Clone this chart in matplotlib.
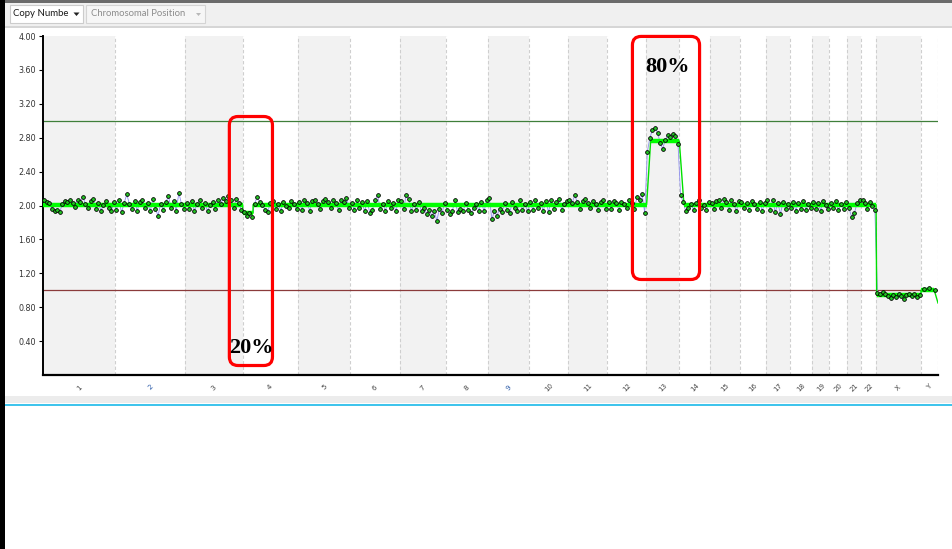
# -*- coding: utf-8 -*-
"""
Copy number view across the genome, chromosomes 1-22, X and Y.
"""

import numpy as np
import matplotlib.pyplot as plt
from matplotlib.patches import Rectangle, FancyBboxPatch, Polygon


"""chromosome names and lengths (Mb)"""
chrom_names = [str(i) for i in range(1, 23)] + ['X', 'Y']
chrom_len = [249, 243, 198, 191, 181, 171, 159, 146, 141, 136, 135, 134,
             115, 107, 103, 90, 81, 78, 59, 63, 48, 51, 155, 59]

"""probe copy number values, one list per chromosome"""
cn_values = [
    [2.06, 2.04, 2.03, 1.96, 1.93, 1.95, 1.92, 2.02, 2.05, 2.04, 2.06, 2.03, 1.98, 2.07,
     2.04, 2.10, 2.02, 1.97, 2.05, 2.08, 1.96, 2.03, 1.94, 2.01, 2.05, 1.97, 1.93, 2.04],
    [1.95, 2.06, 1.92, 2.03, 2.13, 2.02, 1.96, 2.05, 1.94, 2.04, 2.07, 1.97, 2.03, 1.93,
     2.08, 1.96, 1.88, 2.02, 1.95, 2.04, 2.11, 1.97, 2.05, 1.94, 2.15, 2.02, 1.96],
    [2.03, 1.96, 2.05, 1.94, 2.02, 2.06, 1.97, 2.03, 1.93, 2.01, 2.04, 1.96, 2.07, 2.02,
     2.09, 2.05, 2.11, 2.06, 1.97, 2.08, 2.03, 1.95],
    [1.92, 1.88, 1.91, 1.87, 2.02, 2.10, 2.04, 2.01, 1.95, 1.92, 2.03, 2.05, 1.96, 2.02,
     1.94, 2.04, 2.00, 1.97, 2.05, 2.02, 1.96],
    [2.04, 1.95, 2.06, 2.03, 1.94, 2.05, 2.07, 2.02, 1.96, 2.05, 2.08, 2.04, 1.97, 2.06,
     2.03, 1.95, 2.07, 2.04, 2.09, 1.97],
    [2.03, 1.95, 2.06, 1.97, 2.04, 1.93, 2.05, 1.91, 1.95, 2.07, 2.12, 1.96, 2.02, 1.94,
     2.05, 1.97, 2.03, 1.93, 2.06],
    [2.05, 1.96, 2.12, 2.08, 1.94, 2.02, 1.95, 2.04, 1.93, 1.97, 1.90, 1.95, 1.88, 1.93,
     1.82, 1.96, 1.91, 2.03],
    [1.95, 1.90, 1.94, 2.06, 1.92, 1.96, 1.93, 2.03, 1.95, 1.91, 1.97, 2.02, 1.94, 2.04,
     1.93, 2.07],
    [2.09, 1.84, 1.93, 1.88, 1.96, 1.92, 2.03, 1.95, 1.91, 2.04, 1.97, 1.94, 2.06, 1.95,
     2.02, 1.93],
    [2.04, 1.95, 2.06, 1.97, 2.03, 1.94, 2.05, 1.92, 2.07, 1.96, 2.04, 2.08, 1.95, 2.02, 2.05],
    [2.06, 2.03, 2.12, 2.04, 1.96, 2.05, 2.08, 2.03, 1.97, 2.05, 2.02, 1.95, 2.04, 2.06, 1.96],
    [2.04, 1.96, 2.05, 2.03, 1.95, 2.04, 2.02, 1.97, 2.06, 2.03, 1.96, 2.10, 2.07, 2.13, 1.91],
    [2.63, 2.80, 2.89, 2.92, 2.86, 2.74, 2.67, 2.77, 2.83, 2.81, 2.84, 2.82, 2.72],
    [2.12, 2.04, 1.93, 1.97, 2.02, 1.95, 2.03, 2.06, 1.97, 2.01, 1.95, 2.04],
    [2.03, 1.96, 2.05, 2.07, 1.97, 2.08, 2.04, 1.95, 2.06, 2.02, 1.93, 2.05],
    [2.04, 1.97, 2.03, 1.95, 2.05, 2.02, 1.96, 2.04, 1.94, 2.03],
    [2.06, 1.95, 2.07, 1.92, 2.03, 1.90, 2.04, 1.96, 2.02],
    [1.97, 2.04, 1.94, 2.03, 1.96, 2.05, 1.95, 2.02, 1.97],
    [2.04, 1.96, 2.03, 1.94, 2.05, 2.01, 1.96],
    [2.03, 1.97, 2.05, 1.95, 2.02, 1.96, 2.04],
    [1.97, 1.87, 1.91, 2.03, 2.06],
    [2.07, 2.03, 1.96, 2.04, 1.99, 1.95],
    [0.97, 0.95, 0.98, 0.96, 0.93, 0.91, 0.94, 0.92, 0.95, 0.93, 0.90, 0.94, 0.96, 0.93,
     0.95, 0.92, 0.94],
    [1.02, 1.03, 1.00],
]

"""segmented copy number calls (genome position in Mb)"""
seg_start = [0, 690, 726, 2100, 2215, 2881, 3034]
seg_end = [690, 726, 2086, 2199, 2879, 3034, 3080]
seg_value = [2.01, 1.91, 2.01, 2.76, 2.01, 0.94, 1.00]
seg_tail = (3093, 0.85)

W, H = 952, 549


def fx(x):
    return x / W


def fy(y):
    return 1 - y / H


fig = plt.figure(figsize=(W / 100, H / 100), dpi=100)

"""window chrome: toolbar, combo boxes, borders"""
fig.patches.append(Rectangle((0, fy(27)), 1, 27 / H, transform=fig.transFigure,
                             fc='#f0f0f0', ec='none', zorder=0))
fig.patches.append(Rectangle((0, fy(3)), 1, 3 / H, transform=fig.transFigure,
                             fc='#6b6b6b', ec='none', zorder=0))
fig.patches.append(Rectangle((0, fy(27.5)), 1, 1 / H, transform=fig.transFigure,
                             fc='#d6d6d6', ec='none', zorder=0))
fig.patches.append(Rectangle((fx(10), fy(23)), 73 / W, 18 / H, transform=fig.transFigure,
                             fc='white', ec='#cccccc', lw=0.8, zorder=1))
fig.patches.append(Rectangle((fx(86), fy(23)), 119 / W, 18 / H, transform=fig.transFigure,
                             fc='#f6f6f6', ec='#d4d4d4', lw=0.8, zorder=1))
fig.patches.append(Polygon([(fx(73.5), fy(12.5)), (fx(79.5), fy(12.5)), (fx(76.5), fy(16))],
                           closed=True, transform=fig.transFigure, fc='#222222',
                           ec='none', zorder=2))
fig.patches.append(Polygon([(fx(196), fy(13)), (fx(201), fy(13)), (fx(198.5), fy(16))],
                           closed=True, transform=fig.transFigure, fc='#b8b8b8',
                           ec='none', zorder=2))
fig.text(fx(13), fy(14), 'Copy Numbe', fontsize=6.9, color='#1a1a1a',
         va='center', ha='left', family='Lato')
fig.text(fx(91), fy(14), 'Chromosomal Position', fontsize=6.8, color='#8c8c8c',
         va='center', ha='left', family='Lato')

fig.patches.append(Rectangle((0, fy(403)), 1, 7 / H, transform=fig.transFigure,
                             fc='#ececec', ec='none', zorder=0))
fig.patches.append(Rectangle((0, fy(406)), 1, 2.5 / H, transform=fig.transFigure,
                             fc='#3fc4ec', ec='none', zorder=0))
fig.patches.append(Rectangle((0, 0), 5 / W, 1, transform=fig.transFigure,
                             fc='black', ec='none', zorder=3))

"""main plot"""
ax = fig.add_axes([fx(43), fy(375), (938 - 43) / W, (375 - 36) / H])
ax.set_facecolor('none')

offsets = np.concatenate([[0], np.cumsum(chrom_len)])
total = offsets[-1]

for i in range(len(chrom_len)):
    if i % 2 == 0:
        ax.axvspan(offsets[i], offsets[i + 1], color='#f2f2f2', lw=0, zorder=0)
for b in offsets[1:]:
    ax.axvline(b, color='#cfcfcf', lw=0.8, ls=(0, (3, 2)), zorder=0.5)

ax.axhline(3.0, color='#3f7f3a', lw=0.9, zorder=1)
ax.axhline(1.0, color='#8b3b3b', lw=0.9, zorder=1)

"""probe positions spread along each chromosome"""
all_x = []
all_y = []
for i, vals in enumerate(cn_values):
    n = len(vals)
    pos = offsets[i] + (np.arange(n) + 0.5) / n * chrom_len[i]
    all_x.extend(pos)
    all_y.extend(vals)

ax.plot(all_x, all_y, color='#8f8fee', lw=0.6, zorder=2)

"""segment line: thin joins plus thick flat calls"""
line_x = []
line_y = []
for s, e, v in zip(seg_start, seg_end, seg_value):
    line_x += [s, e]
    line_y += [v, v]
line_x.append(seg_tail[0])
line_y.append(seg_tail[1])
ax.plot(line_x, line_y, color='#00e000', lw=1.0, zorder=3)
ax.hlines(seg_value, seg_start, seg_end, color='#00ff00', lw=3.2, zorder=3)

ax.plot(all_x, all_y, 'o', ms=2.7, mfc='#22c422', mec='black', mew=0.6, zorder=4)

ax.set_xlim(0, total)
ax.set_ylim(0, 4.0)
ax.set_yticks(np.arange(0.4, 4.01, 0.4))
ax.set_yticklabels(['%.2f' % v for v in np.arange(0.4, 4.01, 0.4)],
                   fontsize=5.8, color='#333333')
ax.tick_params(axis='y', length=3, width=0.8, pad=2)

mids = (offsets[:-1] + offsets[1:]) / 2
ax.set_xticks(mids)
ax.set_xticklabels(chrom_names, fontsize=5, rotation=45, ha='center', va='center')
ax.tick_params(axis='x', length=0, pad=9)
for lab in ax.get_xticklabels():
    lab.set_color('#2a5aa8' if lab.get_text() in ('2', '9') else '#444444')

for side in ('top', 'right'):
    ax.spines[side].set_visible(False)
ax.spines['left'].set_linewidth(1.4)
ax.spines['bottom'].set_linewidth(1.6)

"""highlight boxes and mosaic fractions"""
asp = (4.0 / 339) / (total / 895)
for x0, x1, y0, y1 in [(644, 793, 0.112, 3.05), (2037, 2269, 1.127, 3.995)]:
    box = FancyBboxPatch((x0, y0), x1 - x0, y1 - y0,
                         boxstyle='round,pad=0,rounding_size=30',
                         mutation_aspect=asp, fc='none', ec='#ff0000', lw=2.3,
                         clip_on=False, zorder=6)
    ax.add_patch(box)

ax.text(719, 0.32, '20%', fontsize=16, fontweight='bold', family='Liberation Serif',
        ha='center', va='center', zorder=7)
ax.text(2157, 3.63, '80%', fontsize=16, fontweight='bold', family='Liberation Serif',
        ha='center', va='center', zorder=7)

plt.savefig('out.png', dpi=100)
